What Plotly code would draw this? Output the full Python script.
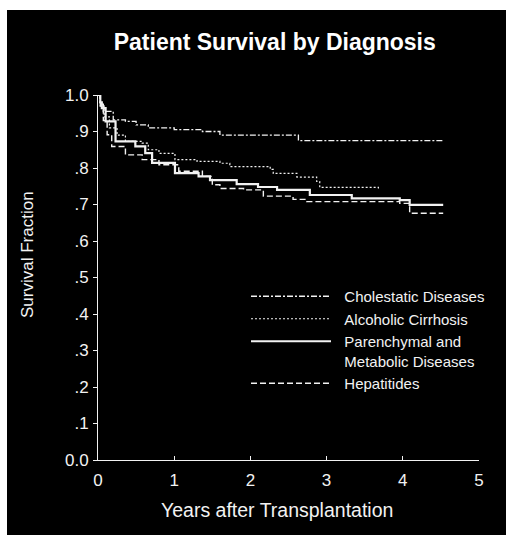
import plotly.graph_objects as go

# ---- data ----
chol_t = [0, 0.03, 0.07, 0.2, 0.36, 0.5, 0.66, 1.0, 1.37, 1.6, 2.63, 4.53]
chol_v = [1.0, 0.975, 0.955, 0.932, 0.928, 0.918, 0.910, 0.905, 0.900, 0.890, 0.875, 0.875]

alc_t = [0, 0.03, 0.08, 0.15, 0.25, 0.36, 0.58, 0.66, 0.8, 1.01, 1.3, 1.6, 1.73, 2.26, 2.30, 2.61, 2.87, 2.91, 3.68]
alc_v = [1.0, 0.97, 0.94, 0.91, 0.89, 0.873, 0.868, 0.850, 0.840, 0.823, 0.818, 0.813, 0.804, 0.796, 0.785, 0.775, 0.763, 0.747, 0.742]

par_t = [0, 0.03, 0.05, 0.1, 0.23, 0.49, 0.62, 0.71, 1.01, 1.32, 1.47, 1.82, 2.1, 2.35, 2.78, 3.33, 3.96, 4.09, 4.53]
par_v = [1.0, 0.98, 0.964, 0.928, 0.873, 0.859, 0.841, 0.814, 0.786, 0.777, 0.767, 0.756, 0.748, 0.740, 0.726, 0.717, 0.712, 0.699, 0.699]

hep_t = [0, 0.03, 0.07, 0.12, 0.18, 0.36, 0.58, 0.80, 1.06, 1.37, 1.50, 1.60, 1.91, 2.17, 2.56, 2.74, 3.96, 4.09, 4.53]
hep_v = [1.0, 0.97, 0.93, 0.891, 0.859, 0.836, 0.823, 0.809, 0.791, 0.777, 0.754, 0.744, 0.740, 0.723, 0.714, 0.708, 0.703, 0.676, 0.676]

series_names = ["Cholestatic Diseases", "Alcoholic Cirrhosis",
                "Parenchymal and<br>Metabolic Diseases", "Hepatitides"]

y_tickvals = [0.0, 0.1, 0.2, 0.3, 0.4, 0.5, 0.6, 0.7, 0.8, 0.9, 1.0]
y_ticktext = ["0.0", ".1", ".2", ".3", ".4", ".5", ".6", ".7", ".8", ".9", "1.0"]
x_tickvals = [0, 1, 2, 3, 4, 5]

FONT = "Liberation Sans, Arial, sans-serif"
W = "#f2f2f2"
PW, PH = 381, 365  # plot area size in px (used for paper-coordinate decorations)

fig = go.Figure()
styles = [
    dict(dash="6px,2px,2px,2px", width=1.3),
    dict(dash="2px,2px", width=1.2),
    dict(dash="solid", width=2.2),
    dict(dash="6px,3px", width=1.4),
]
for (t, v), name, st in zip([(chol_t, chol_v), (alc_t, alc_v), (par_t, par_v), (hep_t, hep_v)],
                            series_names, styles):
    fig.add_trace(go.Scatter(x=t, y=v, mode="lines",
                             name="\u00a0\u00a0" + name.replace("<br>", "<br>\u00a0\u00a0"),
                             line_shape="hv",
                             line=dict(color=W, width=st["width"], dash=st["dash"])))

fig.update_layout(
    width=506, height=535,
    paper_bgcolor="black", plot_bgcolor="black",
    margin=dict(l=98, r=27, t=95, b=75),
    font=dict(family=FONT, color=W, size=15),
    title=dict(text="<b>Patient Survival by Diagnosis</b>", x=0.543, xanchor="center",
               y=0.921, yanchor="middle", font=dict(size=23, color="white", family=FONT)),
    showlegend=True,
    legend=dict(x=(246 - 98) / PW, y=(460 - 280) / PH, xanchor="left", yanchor="top",
                bgcolor="rgba(0,0,0,0)",
                font=dict(size=15, color=W, family=FONT), itemwidth=80, valign="top",
                tracegroupgap=0),
    xaxis=dict(range=[0, 5], tickvals=x_tickvals, ticks="inside", ticklen=4, tickcolor=W,
               showline=True, linecolor=W, linewidth=1, showgrid=False, zeroline=False,
               tickfont=dict(size=17), ticklabelstandoff=5),
    yaxis=dict(range=[0, 1.0], tickvals=y_tickvals, ticktext=y_ticktext, ticks="outside",
               ticklen=4, tickcolor=W, showline=True, linecolor=W, linewidth=1,
               showgrid=False, zeroline=False, tickfont=dict(size=17), ticklabelstandoff=1),
)

# axis titles as annotations (positioned like the reference)
fig.add_annotation(text="Years after Transplantation", xref="paper", yref="paper",
                   x=(277 - 98) / PW, y=(460 - 510) / PH, xanchor="center", yanchor="middle",
                   showarrow=False, font=dict(size=19.5, color=W, family=FONT))
fig.add_annotation(text="Survival Fraction", xref="paper", yref="paper",
                   x=(27 - 98) / PW, y=(460 - 255) / PH, xanchor="center", yanchor="middle",
                   textangle=-90, showarrow=False, font=dict(size=17, color=W, family=FONT))

# scan border (white edge strips at top and left)
fig.add_shape(type="rect", xref="paper", yref="paper", x0=-98 / PW, x1=1 + 27 / PW,
              y0=1 + 85 / PH, y1=1 + 95 / PH, fillcolor="white", line_width=0, layer="below")
fig.add_shape(type="rect", xref="paper", yref="paper", x0=-98 / PW, x1=-91 / PW,
              y0=-75 / PH, y1=1 + 95 / PH, fillcolor="white", line_width=0, layer="below")

fig.write_html("out.html", config={"displayModeBar": False},
               post_script="document.body.style.margin='0';")
